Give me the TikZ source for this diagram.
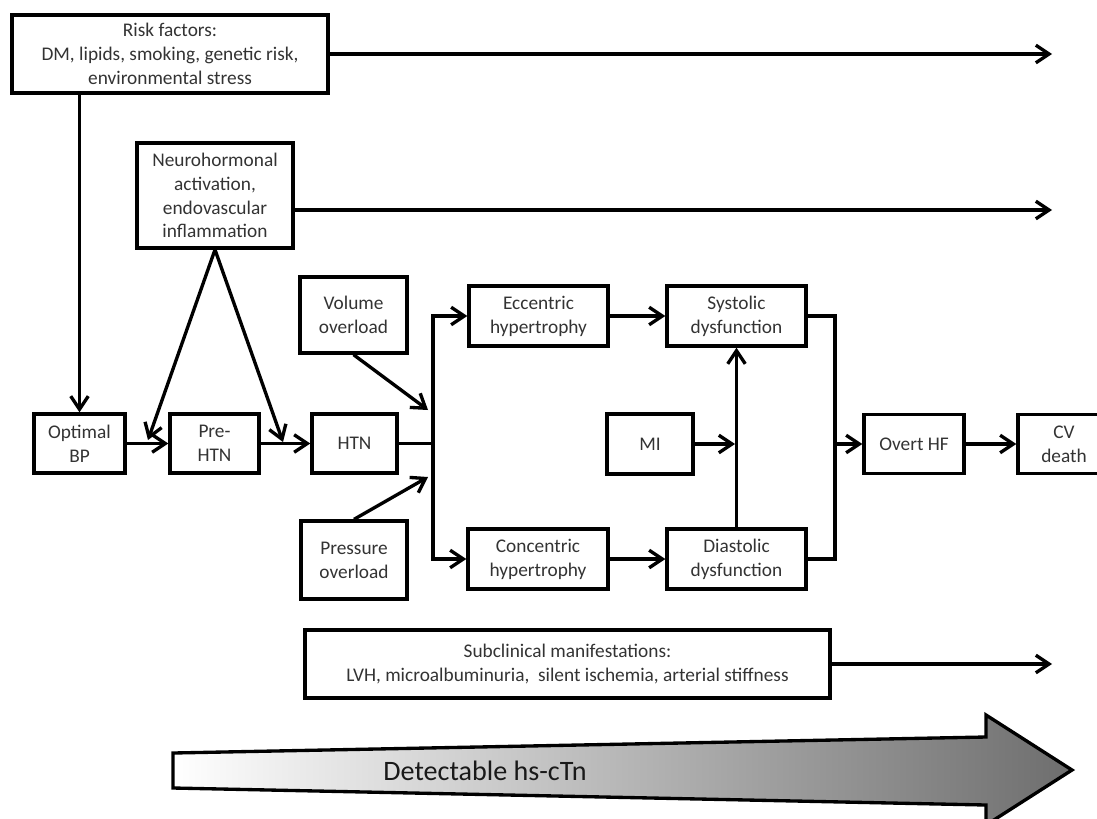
\documentclass[tikz,border=0pt]{standalone}
\usepackage{fontspec}
\setmainfont{Carlito}
\usetikzlibrary{arrows.meta}

\begin{document}
\begin{tikzpicture}[
		x=0.02cm, y=-0.02cm,
		line width=1.9pt,
		>={Straight Barb[length=7.5pt, width=10pt]},
		box/.style={rectangle, draw, inner sep=0pt, align=center, text=black!80,
			font=\fontsize{11}{13.6}\selectfont, minimum height=1.2cm}
	]
  \useasboundingbox (0, 0) rectangle (1097, 818);
  % detectable hs-cTn
  \draw[left color=white, right color=black!57] (173, 753) -- (986, 737) -- (986, 715) -- (1072, 770)
    -- (986, 825) -- (986, 805) -- (173, 788) -- cycle;
  \node (ctn) [font=\fontsize{16}{18}\selectfont, text=black!90] at (485, 771) {Detectable hs-cTn};
  % boxes
  \node (risk) [box, minimum width=6.32cm, minimum height=1.56cm] at (170, 54) {Risk factors:\\DM, lipids, smoking, genetic risk,\\environmental stress};
  \node (neuro) [box, minimum width=3.12cm, minimum height=2.1cm] at (215, 195.5) {Neurohormonal\\activation,\\endovascular\\inflammation};
  \node (opt_bp) [box, minimum width=1.82cm, minimum height=1.18cm] at (79.5, 443.5) {Optimal\\BP};
  \node (pre_htn) [box, minimum width=1.78cm, minimum height=1.18cm] at (214.5, 443.5) {Pre-\\HTN};
  \node (htn) [box, minimum width=1.7cm, minimum height=1.18cm] at (354.5, 443.5) {HTN};
  \node (vol) [box, minimum width=2.14cm, minimum height=1.52cm] at (353.5, 315) {Volume\\overload};
  \node (press) [box, minimum width=2.12cm, minimum height=1.56cm] at (354, 560) {Pressure\\overload};
  \node (ecc) [box, minimum width=2.78cm] at (538.5, 316) {Eccentric\\hypertrophy};
  \node (conc) [box, minimum width=2.8cm] at (538, 559) {Concentric\\hypertrophy};
  \node (sys) [box, minimum width=2.78cm] at (736.5, 316) {Systolic\\dysfunction};
  \node (dia) [box, minimum width=2.78cm] at (736.5, 559) {Diastolic\\dysfunction};
  \node (mi) [box, minimum width=1.72cm] at (650, 444) {MI};
  \node (overt) [box, minimum width=2cm, minimum height=1.18cm] at (914, 444) {Overt HF};
  \node (cv) [box, minimum width=1.84cm, minimum height=1.18cm] at (1064, 444) {CV\\death};
  \node (sub) [box, minimum width=10.5cm, minimum height=1.36cm] at (567.5, 664) {Subclinical manifestations:\\LVH, microalbuminuria,\ \ silent ischemia, arterial stiffness};
  % free ends
  \coordinate (risk_end) at (1052, 54);
  \coordinate (neuro_end) at (1052, 210);
  \coordinate (sub_end) at (1052, 664);
  \coordinate (left_tip) at (148, 440);
  \coordinate (right_tip) at (283, 442);
  \coordinate (vol_tip) at (428, 410);
  \coordinate (press_tip) at (428, 477);
  \coordinate (split_top) at (433, 316);
  \coordinate (split_mid) at (433, 443.5);
  \coordinate (split_bot) at (433, 559);
  \coordinate (mi_tip) at (735, 444);
  \coordinate (join_top) at (835, 316);
  \coordinate (join_mid) at (835, 444);
  \coordinate (join_bot) at (835, 559);
  % connectors
  \draw[->] (risk) -- (risk_end);
  \draw[->] (neuro.east |- neuro_end) -- (neuro_end);
  \draw[->] (risk.south -| opt_bp) -- (opt_bp);
  \draw[->] (neuro.south) -- (left_tip);
  \draw[->] (neuro.south) -- (right_tip);
  \draw[->] (opt_bp) edge (pre_htn);
  \draw[->] (pre_htn) edge (htn);
  \draw (htn) -- (split_mid);
  \draw[->] (vol.south) -- (vol_tip);
  \draw[->] (press.north) -- (press_tip);
  \draw[->] (split_bot) -- (split_top) -- (ecc);
  \draw[->] (split_top) -- (split_bot) -- (conc);
  \draw[->] (ecc) edge (sys);
  \draw[->] (conc) edge (dia);
  \draw[->] (mi) -- (mi_tip);
  \draw[->] (dia) -- (sys);
  \draw (sys) -- (join_top) -- (join_bot) -- (dia);
  \draw[->] (join_mid) -- (overt);
  \draw[->] (overt) edge (cv);
  \draw[->] (sub) -- (sub_end);
\end{tikzpicture}
\end{document}
